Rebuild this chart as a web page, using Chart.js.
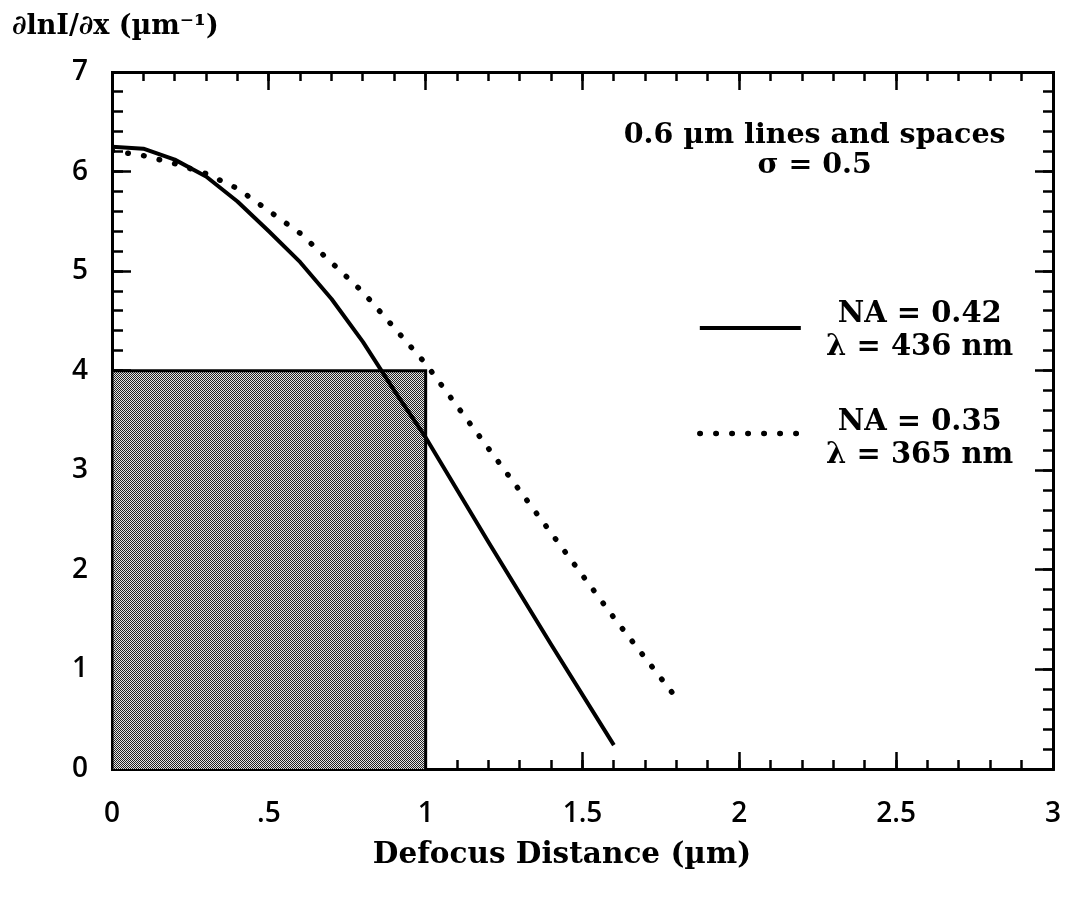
<!DOCTYPE html>
<html><head><meta charset="utf-8">
<script src="https://cdn.jsdelivr.net/npm/chart.js@4.4.1/dist/chart.umd.min.js"></script>
<style>html,body{margin:0;padding:0;background:#fff}canvas{display:block}</style>
</head><body>
<canvas id="c" width="1065" height="900"></canvas>
<script>
// ---- data ----
const solidX = [0, 0.1, 0.2, 0.3, 0.4, 0.5, 0.6, 0.7, 0.8, 0.9, 1.0, 1.2, 1.4, 1.6];
const solidY = [6.25, 6.23, 6.12, 5.95, 5.70, 5.40, 5.09, 4.72, 4.29, 3.80, 3.33, 2.28, 1.25, 0.24];
const dottedX = [0, 0.1, 0.2, 0.3, 0.4, 0.6, 0.8, 1.0, 1.2, 1.4, 1.6, 1.8];
const dottedY = [6.21, 6.16, 6.08, 5.98, 5.83, 5.38, 4.79, 4.07, 3.22, 2.37, 1.52, 0.71];
const boxX = [0, 0, 1, 1];
const boxY = [0, 4, 4, 0];
const xTickLabels = ['0', '.5', '1', '1.5', '2', '2.5', '3'];
const yTickLabels = ['0', '1', '2', '3', '4', '5', '6', '7'];
const yTitle = '∂lnI/∂x (µm⁻¹)';
const xTitle = 'Defocus Distance (µm)';
const noteLines = ['0.6 µm lines and spaces', 'σ = 0.5'];
const solidLabel = ['NA = 0.42', 'λ = 436 nm'];
const dottedLabel = ['NA = 0.35', 'λ = 365 nm'];

function pts(xs, ys) { return xs.map((x, i) => ({x: x, y: ys[i]})); }

const SERIF = "'DejaVu Serif', serif";
const SANS = "'Open Sans', sans-serif";

// halftone pattern for the shaded region
const pc = document.createElement('canvas'); pc.width = 2; pc.height = 2;
const pctx = pc.getContext('2d');
pctx.fillStyle = '#e6e6e6'; pctx.fillRect(0, 0, 2, 2);
pctx.fillStyle = '#222'; pctx.fillRect(0, 0, 1, 1); pctx.fillRect(1, 1, 1, 1);
const ctx = document.getElementById('c').getContext('2d');
const halftone = ctx.createPattern(pc, 'repeat');

const DOT_DASH = [0.5, 15.5];

const annotations = {
  id: 'annotations',
  afterDraw(chart) {
    const c = chart.ctx, xs = chart.scales.x, ys = chart.scales.y;
    c.save();
    c.fillStyle = '#000';
    c.textAlign = 'center';
    c.textBaseline = 'alphabetic';
    c.font = 'bold 28.5px ' + SERIF;
    const nx = xs.getPixelForValue(2.24);
    c.fillText(noteLines[0], nx, ys.getPixelForValue(6.29));
    c.fillText(noteLines[1], nx, ys.getPixelForValue(5.99));
    c.font = 'bold 29px ' + SERIF;
    const lx = xs.getPixelForValue(2.575);
    c.fillText(solidLabel[0], lx, ys.getPixelForValue(4.49));
    c.fillText(solidLabel[1], lx, ys.getPixelForValue(4.16));
    c.fillText(dottedLabel[0], lx, ys.getPixelForValue(3.40));
    c.fillText(dottedLabel[1], lx, ys.getPixelForValue(3.07));
    // legend samples
    const s0 = xs.getPixelForValue(1.874), s1 = xs.getPixelForValue(2.196);
    c.strokeStyle = '#000';
    c.lineWidth = 4;
    c.beginPath();
    const ySolid = ys.getPixelForValue(4.43);
    c.moveTo(s0, ySolid); c.lineTo(s1, ySolid); c.stroke();
    c.lineWidth = 5.5; c.lineCap = 'round'; c.setLineDash(DOT_DASH);
    c.beginPath();
    const yDot = ys.getPixelForValue(3.37);
    c.moveTo(s0, yDot); c.lineTo(s1, yDot); c.stroke();
    c.restore();
  }
};

function tickAxis(pos, min, max, step, len, border, weight) {
  const horiz = pos === 'top' || pos === 'bottom';
  return {
    type: 'linear', position: pos, min: min, max: max, weight: weight,
    ticks: {display: false, stepSize: step, autoSkip: false, padding: 0},
    grid: {drawOnChartArea: false, tickLength: -len, tickWidth: 2.5, tickColor: '#000'},
    border: {display: border, color: '#000', width: 3},
    afterFit: s => {
      if (horiz) s.height = 0; else s.width = 0;
      s.paddingLeft = 0; s.paddingRight = 0; s.paddingTop = 0; s.paddingBottom = 0;
    }
  };
}

new Chart(ctx, {
  type: 'line',
  data: {
    datasets: [
      {
        label: solidLabel.join(' '), data: pts(solidX, solidY),
        borderColor: '#000', borderWidth: 4, pointRadius: 0, tension: 0,
        fill: false, order: 0, borderJoinStyle: 'round'
      },
      {
        label: dottedLabel.join(' '), data: pts(dottedX, dottedY),
        borderColor: '#000', borderWidth: 5.5, borderDash: DOT_DASH, borderCapStyle: 'round',
        pointRadius: 0, tension: 0, fill: false, order: 1
      },
      {
        label: 'region', data: pts(boxX, boxY),
        borderColor: '#000', borderWidth: 3, backgroundColor: halftone,
        fill: 'origin', pointRadius: 0, tension: 0, order: 5
      }
    ]
  },
  options: {
    responsive: false, animation: false,
    layout: {padding: {left: 12, right: 12, top: 0, bottom: 0}, autoPadding: false},
    plugins: {
      legend: {display: false}, tooltip: {enabled: false},
      title: {
        display: true, text: yTitle, align: 'start', color: '#000',
        font: {family: SERIF, size: 27, weight: 'bold'},
        padding: {top: 11, bottom: 28.6}
      }
    },
    scales: {
      x: {
        type: 'linear', position: 'bottom', min: 0, max: 3, weight: 1,
        ticks: {stepSize: 0.5, autoSkip: false, maxRotation: 0, padding: 45, color: '#000',
                font: {family: SANS, size: 28, weight: '600'}, callback: (v, i) => xTickLabels[i]},
        grid: {drawOnChartArea: false, tickLength: -17, tickWidth: 2.5, tickColor: '#000'},
        border: {display: true, color: '#000', width: 3},
        title: {display: true, text: xTitle + '    ', color: '#000',
                font: {family: SERIF, size: 29.5, weight: 'bold'}, padding: {top: 0, bottom: 27}},
        afterFit: s => { s.height = 131; s.paddingLeft = 0; s.paddingRight = 0; }
      },
      xm: tickAxis('bottom', 0, 3, 0.1, 9, false, 0),
      xt: tickAxis('top', 0, 3, 0.5, 18, true, 0),
      xtm: tickAxis('top', 0, 3, 0.1, 9, false, 0),
      y: {
        type: 'linear', position: 'left', min: 0, max: 7, weight: 1,
        ticks: {stepSize: 1, autoSkip: false, padding: 43, color: '#000',
                font: {family: SANS, size: 28, weight: '600'}, callback: (v, i) => yTickLabels[i]},
        grid: {drawOnChartArea: false, tickLength: -19, tickWidth: 2.5, tickColor: '#000'},
        border: {display: true, color: '#000', width: 3},
        afterFit: s => { s.width = 100; s.paddingTop = 0; s.paddingBottom = 0; }
      },
      ym: tickAxis('left', 0, 7, 0.2, 11, false, 0),
      yr: tickAxis('right', 0, 7, 1, 18, true, 0),
      yrm: tickAxis('right', 0, 7, 0.2, 10, false, 0)
    }
  },
  plugins: [annotations]
});
</script>
</body></html>
